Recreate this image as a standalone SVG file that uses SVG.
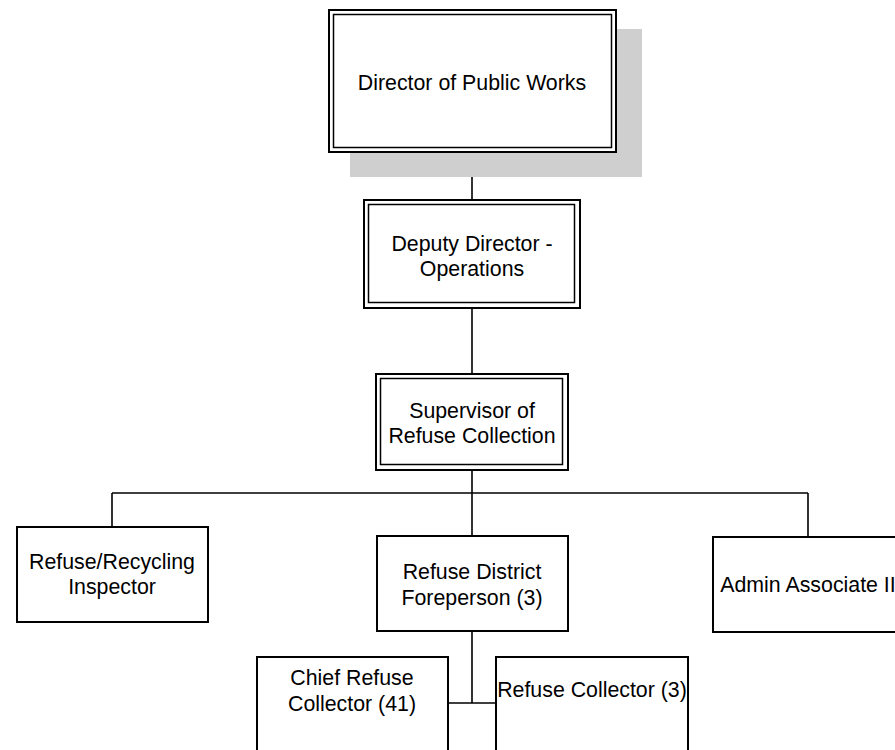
<svg xmlns="http://www.w3.org/2000/svg" width="895" height="750" viewBox="0 0 895 750">
<style>
.box{fill:#fff;stroke:#000;stroke-width:2}
.inner{fill:none;stroke:#000;stroke-width:1.5}
.ln{stroke:#000;stroke-width:1.6;fill:none}
text{font-family:"Liberation Sans",Arial,sans-serif;font-size:21.33px;fill:#000;text-anchor:middle}
</style>
<rect width="895" height="750" fill="#fff"/>
<g id="connectors">
<path class="ln" d="M472 152V200M472 308V374M472 470V536M112 493H808M112 493V527M808 493V537M472 631V703M448 703H496"/>
</g>
<g id="director">
<rect x="350" y="29" width="292" height="148" fill="#cfcfcf"/>
<rect class="box" x="329" y="10" width="287" height="142"/>
<rect class="inner" x="333.5" y="14.5" width="278" height="133"/>
<text x="472" y="90">Director of Public Works</text>
</g>
<g id="deputy">
<rect class="box" x="364" y="200" width="216" height="108"/>
<rect class="inner" x="368.5" y="204.5" width="206" height="98"/>
<text x="472" y="251">Deputy Director -</text>
<text x="472" y="276">Operations</text>
</g>
<g id="supervisor">
<rect class="box" x="376" y="374" width="192" height="96"/>
<rect class="inner" x="380.5" y="378.5" width="182" height="86"/>
<text x="472" y="418">Supervisor of</text>
<text x="472" y="443">Refuse Collection</text>
</g>
<g id="inspector">
<rect class="box" x="17" y="527" width="191" height="95"/>
<text x="112" y="569">Refuse/Recycling</text>
<text x="112" y="594">Inspector</text>
</g>
<g id="foreperson">
<rect class="box" x="377" y="536" width="191" height="95"/>
<text x="472" y="579">Refuse District</text>
<text x="472" y="605">Foreperson (3)</text>
</g>
<g id="admin">
<rect class="box" x="713" y="537" width="191" height="95"/>
<text x="808" y="592">Admin Associate II</text>
</g>
<g id="chief">
<rect class="box" x="257" y="657" width="191" height="100"/>
<text x="352" y="685">Chief Refuse</text>
<text x="352" y="711">Collector (41)</text>
</g>
<g id="collector">
<rect class="box" x="496" y="657" width="192" height="100"/>
<text x="592" y="697">Refuse Collector (3)</text>
</g>
</svg>
